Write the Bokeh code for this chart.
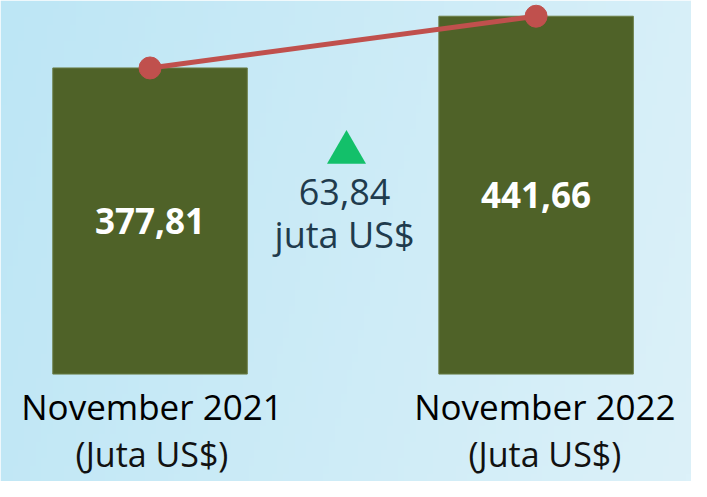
import numpy as np
from bokeh.plotting import figure
from bokeh.models import Range1d, ColumnDataSource
from bokeh.core.properties import value
from bokeh.embed import file_html
from bokeh.resources import INLINE

# ---- data ----
categories = ["November 2021", "November 2022"]
units = ["(Juta US$)", "(Juta US$)"]
values = [377.81, 441.66]
value_labels = ["377,81", "441,66"]
change_label = "63,84"
change_unit = "juta US$"

# ---- layout: ranges expressed in the reference picture's pixel frame ----
W, H = 691, 481
RW, RH = 707, 497
S = 0.8372            # reference px per unit
Y0 = 386              # reference pixel row of value 0
def py(v):            # reference pixel row -> data value
    return (Y0 - v) / S

bar_x = [153, 548]
label_x = [155, 557]
bar_w = 199
FS = "35px"
FS_MID = "36px"

p = figure(width=W, height=H, output_backend="svg", toolbar_location=None,
           x_range=Range1d(0, RW), y_range=Range1d(py(RH), py(0)),
           min_border=0, outline_line_color=None)
p.axis.visible = False
p.grid.visible = False
p.background_fill_color = None
p.border_fill_color = None

# background gradient
nx, ny = 120, 60
c0 = np.array([189, 230, 245])
c1 = np.array([220, 241, 249])
tx = np.linspace(0, 1, nx)[None, :]
ty = np.linspace(0, 1, ny)[:, None]
t = np.clip(0.85 * tx + 0.15 * (1 - ty), 0, 1)
img = np.zeros((ny, nx), dtype=np.uint32)
view = img.view(dtype=np.uint8).reshape((ny, nx, 4))
for k in range(3):
    view[:, :, k] = (c0[k] + (c1[k] - c0[k]) * t).astype(np.uint8)
view[:, :, 3] = 255
p.image_rgba(image=[img], x=0, y=py(RH), dw=RW, dh=py(0) - py(RH))

src = ColumnDataSource(dict(x=bar_x, lx=label_x, top=values,
                            mid=[v / 2 for v in values], lab=value_labels,
                            cat=categories, unit=units))

p.vbar(x="x", top="top", bottom=0, width=bar_w, source=src,
       fill_color="#4F6228", line_color="#6B7E47", line_width=1)

p.line(x="x", y="top", source=src, line_color="#C0504D", line_width=5)
p.scatter(x="x", y="top", source=src, size=22, marker="circle",
          fill_color="#C0504D", line_color="#C0504D")

p.text(x="x", y="mid", text="lab", source=src, text_font=value("Open Sans"),
       text_font_style="bold", text_font_size=FS, text_color="white",
       text_align="center", text_baseline="middle")

p.text(x="lx", y=py(420), text="cat", source=src, text_font=value("Open Sans"),
       text_font_size=FS, text_color="black",
       text_align="center", text_baseline="middle")
p.text(x="lx", y=py(469), text="unit", source=src, text_font=value("Open Sans"),
       text_font_size="34px", text_color="#111111",
       text_align="center", text_baseline="middle")

# change indicator
p.scatter(x=[354], y=[py(157)], marker="triangle", size=39,
          fill_color="#13C06A", line_color=None)
p.text(x=[352], y=[py(197.5)], text=[change_label], text_font=value("Open Sans"),
       text_font_size=FS_MID, text_color="#1F3B4D",
       text_align="center", text_baseline="middle")
p.text(x=[352], y=[py(242)], text=[change_unit], text_font=value("Open Sans"),
       text_font_size=FS_MID, text_color="#1F3B4D",
       text_align="center", text_baseline="middle")

open("out.html", "w").write(file_html(p, INLINE))
